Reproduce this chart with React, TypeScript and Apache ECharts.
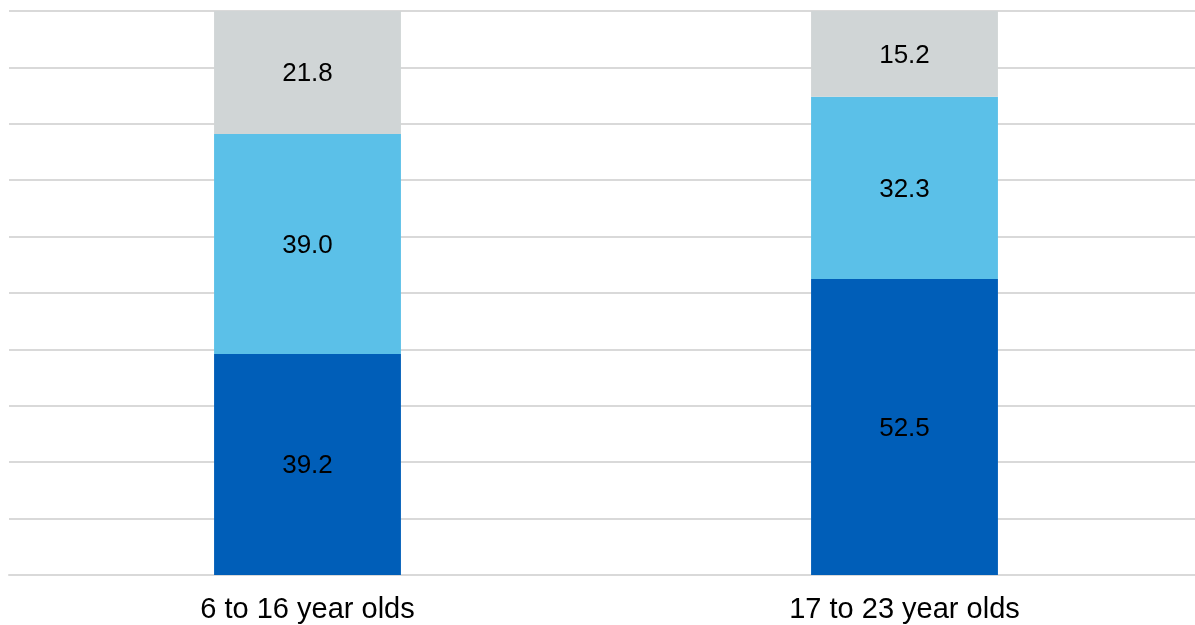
import React, { useEffect, useRef } from "react";
import * as echarts from "echarts";

const categories = ["6 to 16 year olds", "17 to 23 year olds"];
const seriesBottom = [39.2, 52.5];
const seriesMiddle = [39.0, 32.3];
const seriesTop = [21.8, 15.2];

export default function App() {
  const ref = useRef<HTMLDivElement>(null);
  useEffect(() => {
    const chart = echarts.init(ref.current!, null, { renderer: "svg" });
    const label = {
      show: true,
      position: "inside",
      color: "#000",
      fontSize: 26,
      fontFamily: "Liberation Sans, Arial, sans-serif",
      formatter: (p: any) => Number(p.value).toFixed(1),
    };
    const mk = (name: string, data: number[], color: string) => ({
      name,
      type: "bar",
      stack: "a",
      data,
      barWidth: "31.3%",
      itemStyle: { color },
      label,
    });
    chart.setOption({
      animation: false,
      grid: { left: 9, right: 7, top: 11, bottom: 50 },
      xAxis: {
        type: "category",
        data: categories,
        axisLine: { show: true, lineStyle: { color: "#d9d9d9", width: 2 } },
        axisTick: { show: false },
        axisLabel: {
          color: "#000",
          fontSize: 29,
          fontFamily: "Liberation Sans, Arial, sans-serif",
          margin: 18,
        },
      },
      yAxis: {
        type: "value",
        min: 0,
        max: 100,
        interval: 10,
        axisLabel: { show: false },
        axisLine: { show: false },
        axisTick: { show: false },
        splitLine: { lineStyle: { color: "#d9d9d9", width: 2 } },
      },
      series: [
        mk("Bottom", seriesBottom, "#005EB8"),
        mk("Middle", seriesMiddle, "#5BC0E8"),
        mk("Top", seriesTop, "#D0D5D6"),
      ],
    });
    return () => chart.dispose();
  }, []);
  return (
    <div
      ref={ref}
      style={{ position: "fixed", left: 0, top: 0, width: 1210, height: 625 }}
    />
  );
}
